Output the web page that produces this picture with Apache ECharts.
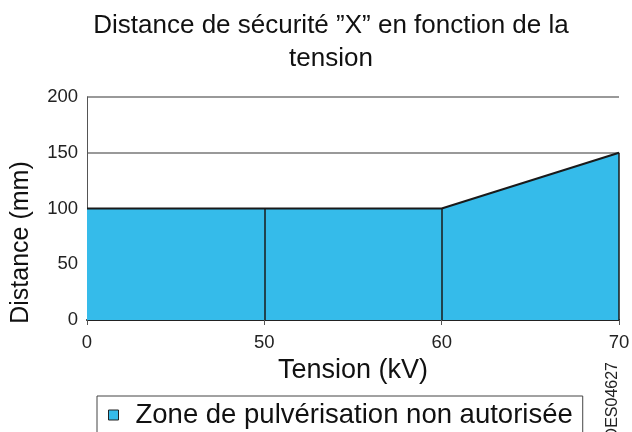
<!DOCTYPE html>
<html>
<head>
<meta charset="utf-8">
<script src="https://cdn.jsdelivr.net/npm/echarts@6/dist/echarts.min.js"></script>
<style>html,body{margin:0;padding:0;background:#fff}#c{width:632px;height:432px}</style>
</head>
<body>
<div id="c"></div>
<script>
var categories = ['0', '50', '60', '70'];
var distances = [100, 100, 100, 150];
var yTicks = [0, 50, 100, 150, 200];
var seriesName = 'Zone de pulvérisation non autorisée';

var dividers = [];
for (var i = 1; i < categories.length; i++) {
  dividers.push([{ coord: [i, 0] }, { coord: [i, distances[i]] }]);
}

var chart = echarts.init(document.getElementById('c'));
chart.setOption({
  animation: false,
  backgroundColor: '#fff',
  textStyle: { fontFamily: 'Liberation Sans, Arial, sans-serif' },
  title: {
    text: 'Distance de sécurité ”X” en fonction de la\ntension',
    left: 326,
    top: 4,
    textAlign: 'center',
    textStyle: { fontSize: 26, fontWeight: 'normal', color: '#111', lineHeight: 33, fontFamily: 'Liberation Sans' }
  },
  grid: { left: 87, right: 13, top: 97, bottom: 112, containLabel: false, outerBoundsMode: 'none' },
  legend: {
    left: 97,
    top: 396,
    padding: [5, 10, 12, 11],
    borderColor: '#444',
    borderWidth: 1,
    icon: 'rect',
    itemWidth: 10,
    itemHeight: 10,
    itemStyle: { color: '#35bbea', borderColor: '#222', borderWidth: 1 },
    textStyle: { fontSize: 27.5, color: '#111', padding: [0, 0, 0, 12], fontFamily: 'Liberation Sans' },
    data: [seriesName]
  },
  xAxis: {
    type: 'category',
    data: categories,
    boundaryGap: false,
    name: 'Tension (kV)',
    nameLocation: 'middle',
    nameGap: 33,
    nameTextStyle: { fontSize: 27, color: '#111', fontFamily: 'Liberation Sans' },
    axisLine: { lineStyle: { color: '#222', width: 2 } },
    axisTick: { show: true, length: 5, lineStyle: { color: '#555' } },
    axisLabel: { fontSize: 18.5, color: '#222', margin: 13, fontFamily: 'Liberation Sans' },
    splitLine: { show: false }
  },
  yAxis: {
    type: 'value',
    min: yTicks[0],
    max: yTicks[yTicks.length - 1],
    interval: yTicks[1] - yTicks[0],
    name: 'Distance (mm)',
    nameLocation: 'middle',
    nameGap: 53,
    nameTextStyle: { fontSize: 25, color: '#111', padding: [0, 68, 0, 0], fontFamily: 'Liberation Sans' },
    axisLine: { show: true, lineStyle: { color: '#555', width: 1 } },
    axisTick: { show: false },
    axisLabel: { fontSize: 18.5, color: '#222', margin: 9, fontFamily: 'Liberation Sans' },
    splitLine: { show: true, lineStyle: { color: '#777', width: 1.5 } }
  },
  graphic: [{
    type: 'text',
    left: 605,
    top: 362,
    rotation: Math.PI / 2,
    style: { text: 'DES04627', fontSize: 16, fill: '#222', fontFamily: 'Liberation Sans' }
  }],
  series: [{
    name: seriesName,
    type: 'line',
    data: distances,
    symbol: 'none',
    lineStyle: { color: '#1a1a1a', width: 2 },
    itemStyle: { color: '#35bbea' },
    areaStyle: { color: '#35bbea', opacity: 1 },
    markLine: {
      silent: true,
      symbol: 'none',
      label: { show: false },
      lineStyle: { color: '#1a1a1a', width: 1.5, type: 'solid' },
      data: dividers
    }
  }]
});
</script>
</body>
</html>
